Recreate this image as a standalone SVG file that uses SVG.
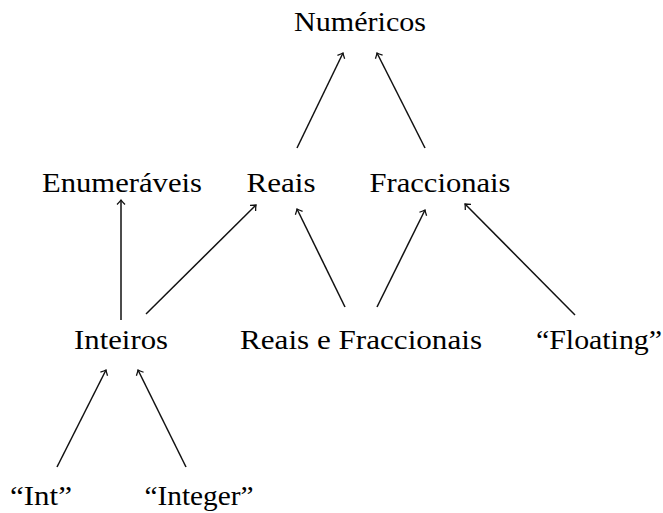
<svg xmlns="http://www.w3.org/2000/svg" width="663" height="513" viewBox="0 0 663 513">
<style>
text{font-family:"Liberation Serif","DejaVu Serif",serif;font-size:28px;fill:#000;text-anchor:middle}
.c line{stroke:#111;stroke-width:1.5;marker-end:url(#ah)}
</style>
<defs>
<marker id="ah" markerUnits="userSpaceOnUse" markerWidth="12" markerHeight="12" refX="0" refY="0" viewBox="-6 -6 12 12" orient="auto" overflow="visible">
<path d="M-4.5,-4 Q-1.5,-1 0,0 Q-1.5,1 -4.5,4" fill="none" stroke="#111" stroke-width="1.3"/>
</marker>
</defs>
<rect width="663" height="513" fill="#fff"/>
<g class="c" id="connectors">
<line x1="297" y1="148" x2="343" y2="53"/>
<line x1="425" y1="148" x2="377" y2="53"/>
<line x1="121" y1="320" x2="121" y2="200"/>
<line x1="146" y1="314" x2="256" y2="205"/>
<line x1="345" y1="307" x2="297" y2="209"/>
<line x1="377" y1="307" x2="425" y2="210"/>
<line x1="575" y1="315" x2="465" y2="204"/>
<line x1="57" y1="467" x2="106" y2="370"/>
<line x1="186" y1="467" x2="138" y2="370"/>
</g>
<g id="numericos"><text x="360" y="31" textLength="132" lengthAdjust="spacingAndGlyphs">Numéricos</text></g>
<g id="enumeraveis"><text x="122" y="192" textLength="160" lengthAdjust="spacingAndGlyphs">Enumeráveis</text></g>
<g id="reais"><text x="281" y="192" textLength="69" lengthAdjust="spacingAndGlyphs">Reais</text></g>
<g id="fraccionais"><text x="440" y="192" textLength="141" lengthAdjust="spacingAndGlyphs">Fraccionais</text></g>
<g id="inteiros"><text x="121" y="349" textLength="94" lengthAdjust="spacingAndGlyphs">Inteiros</text></g>
<g id="reaisefraccionais"><text x="361" y="349" textLength="242" lengthAdjust="spacingAndGlyphs">Reais e Fraccionais</text></g>
<g id="floating"><text x="599" y="349" textLength="126" lengthAdjust="spacingAndGlyphs">“Floating”</text></g>
<g id="int"><text x="41" y="505" textLength="62" lengthAdjust="spacingAndGlyphs">“Int”</text></g>
<g id="integer"><text x="199" y="505" textLength="109" lengthAdjust="spacingAndGlyphs">“Integer”</text></g>
</svg>
